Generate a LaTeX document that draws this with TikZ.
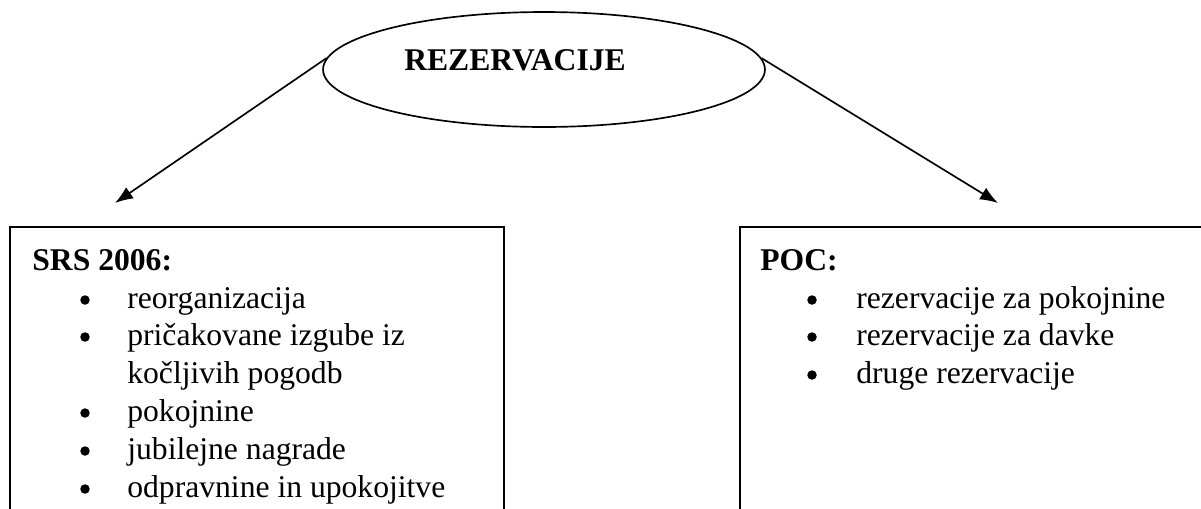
\documentclass[tikz,border=0pt]{standalone}
\usepackage{fontspec}
\setmainfont{Liberation Serif}
\usetikzlibrary{shapes.geometric,arrows.meta}
\begin{document}
\begin{tikzpicture}[x=0.02cm,y=-0.02cm,
  txt/.style={anchor=base west,inner sep=0pt,font=\fontsize{18}{21}\selectfont},
  hd/.style={anchor=base west,inner sep=0pt,font=\fontsize{18}{21}\selectfont\bfseries},
  bul/.style={circle,fill=black,inner sep=0pt,minimum size=0.19cm},
  boxline/.style={line width=1.2pt},
  conn/.style={line width=0.95pt,-{Latex[length=0.36cm,width=0.27cm]}}]
\useasboundingbox (0,0) rectangle (1201,508);
\clip (0,0) rectangle (1201,508);
% title ellipse
\node[draw,ellipse,line width=0.95pt,minimum width=8.84cm,minimum height=2.3cm,inner sep=0pt] (ell) at (544,69.5) {};
\node[anchor=base,inner sep=0pt,font=\fontsize{18}{21}\selectfont\bfseries] (title) at (515,70) {REZERVACIJE};
% arrow end points
\coordinate (tipL) at (115,203);
\coordinate (tipR) at (998,203);
\draw[conn] (ell.177) -- (tipL);
\draw[conn] (ell.3) -- (tipR);
% boxes (open at the bottom, cut by the picture edge)
\draw[boxline] (10,530) -- (10,227) -- (504,227) -- (504,530);
\draw[boxline] (740,530) -- (740,227) -- (1240,227);
% left box text
\node[hd] (srs) at (32,270) {SRS 2006:};
\node[bul] (b1) at (85,300) {};
\node[txt] (l1) at (127,308) {reorganizacija};
\node[bul] (b2) at (85,337) {};
\node[txt] (l2) at (127,345) {pričakovane izgube iz};
\node[txt] (l3) at (127,383) {kočljivih pogodb};
\node[bul] (b4) at (85,413) {};
\node[txt] (l4) at (127,421) {pokojnine};
\node[bul] (b5) at (85,451) {};
\node[txt] (l5) at (127,459) {jubilejne nagrade};
\node[bul] (b6) at (85,489) {};
\node[txt] (l6) at (127,497) {odpravnine in upokojitve};
% right box text
\node[hd] (poc) at (760,270) {POC:};
\node[bul] (c1) at (812,300) {};
\node[txt] (r1) at (856,308) {rezervacije za pokojnine};
\node[bul] (c2) at (812,337) {};
\node[txt] (r2) at (856,345) {rezervacije za davke};
\node[bul] (c3) at (812,375) {};
\node[txt] (r3) at (856,383) {druge rezervacije};
\end{tikzpicture}
\end{document}
